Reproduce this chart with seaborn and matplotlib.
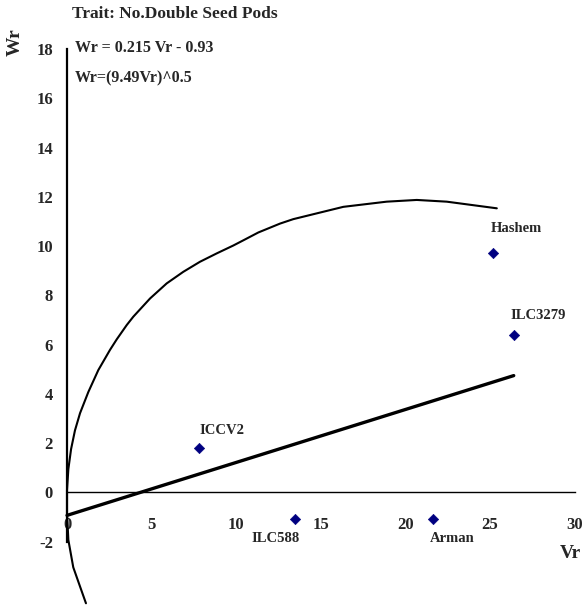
import matplotlib
matplotlib.use("Agg")
import matplotlib.pyplot as plt
import seaborn as sns
import numpy as np
import pandas as pd

# genotypes (Vr, Wr)
genotipos = ["ICCV2", "ILC588", "Arman", "Hashem", "ILC3279"]
vr_pontos = [7.8, 13.5, 21.6, 25.2, 26.4]
wr_pontos = [1.81, -1.08, -1.08, 9.74, 6.38]

# limiting curve (bottom to top, then right)
curva_vr = [1.12, 0.77, 0.37, 0.08, 0.0, 0.0, 0.08, 0.24, 0.47, 0.77, 1.26,
            1.85, 2.54, 2.94, 3.53, 3.92, 4.91, 5.89, 6.87, 7.86, 8.85, 9.83,
            10.42, 11.31, 12.59, 13.37, 16.33, 18.89, 20.67, 22.44, 25.4]
curva_wr = [-4.50, -3.82, -3.04, -1.93, -0.84, 0.10, 0.95, 1.76, 2.52, 3.22, 4.08,
            4.97, 5.79, 6.22, 6.80, 7.14, 7.88, 8.49, 8.96, 9.37, 9.71, 10.03,
            10.24, 10.56, 10.92, 11.10, 11.60, 11.81, 11.88, 11.81, 11.54]

# regression line Wr = 0.215 Vr - 0.93
reta_vr = np.array([0.0, 26.4])
reta_wr = 0.215 * reta_vr - 0.93

x_ticks = [0, 5, 10, 15, 20, 25, 30]
y_ticks = [-2, 0, 2, 4, 6, 8, 10, 12, 14, 16, 18]

sns.set_style("white")
plt.rcParams['font.family'] = ['Liberation Serif', 'DejaVu Serif']
plt.rcParams['font.weight'] = 'bold'

fig = plt.figure(figsize=(5.87, 6.05), dpi=100)
ax = fig.add_axes([0, 0, 1, 1])
ax.set_xlim(-3.96, 30.73)
ax.set_ylim(-4.57, 20.0)
ax.patch.set_visible(False)

# curva e reta
df_curva = pd.DataFrame({'vr': curva_vr, 'wr': curva_wr})
ax.plot(df_curva['vr'], df_curva['wr'], color='black', lw=1.5, zorder=2,
        solid_joinstyle='round')
sns.lineplot(x=reta_vr, y=reta_wr, color='black', lw=2.4, ax=ax, zorder=3)

# pontos
df_pts = pd.DataFrame({'g': genotipos, 'vr': vr_pontos, 'wr': wr_pontos})
sns.scatterplot(data=df_pts, x='vr', y='wr', marker='D', s=28, color='#000080',
                edgecolor='#000080', ax=ax, zorder=4)

deslocamentos = {
    'ICCV2': (0, 17, 'left'),
    'ILC588': (4, -19, 'right'),
    'Arman': (-3, -19, 'left'),
    'Hashem': (-3, 24, 'left'),
    'ILC3279': (-3, 20, 'left'),
}
for _, r in df_pts.iterrows():
    dx, dy, ha = deslocamentos[r['g']]
    ax.annotate(r['g'], (r['vr'], r['wr']), xytext=(dx, dy), textcoords='offset pixels',
                ha=ha, va='center', fontsize=10.5, fontweight='bold')

# eixos cruzando na origem
for s in ['top', 'right']:
    ax.spines[s].set_visible(False)
ax.spines['left'].set_position(('data', 0))
ax.spines['bottom'].set_position(('data', 0))
ax.spines['left'].set_bounds(-2, 18)
ax.spines['bottom'].set_bounds(0, 30)
ax.spines['left'].set_linewidth(1.6)
ax.spines['bottom'].set_linewidth(1.0)
ax.spines['left'].set_color('black')
ax.spines['bottom'].set_color('black')

ax.set_xticks(x_ticks)
ax.set_yticks(y_ticks)
ax.set_xticklabels([str(t) for t in x_ticks])
ax.set_yticklabels([str(t) for t in y_ticks])
ax.tick_params(axis='x', direction='out', length=5, width=1, pad=13, labelsize=12)
ax.tick_params(axis='y', direction='out', length=5, width=1, pad=5, labelsize=12)
for lab in ax.get_xticklabels() + ax.get_yticklabels():
    lab.set_fontweight('bold')

ax.set_xlabel('')
ax.set_ylabel('')
fig.text(560 / 587, 1 - 553 / 605, 'Vr', fontsize=14, ha='left', va='center')
fig.text(15 / 587, 1 - 42 / 605, 'Wr', fontsize=14, rotation=90, ha='center', va='center')

fig.text(72 / 587, 1 - 14 / 605, 'Trait: No.Double Seed Pods', fontsize=12.5,
         fontweight='bold', ha='left', va='center')
fig.text(75 / 587, 1 - 48 / 605, 'Wr = 0.215 Vr - 0.93', fontsize=11.5,
         fontweight='bold', ha='left', va='center')
fig.text(75 / 587, 1 - 78 / 605, 'Wr=(9.49Vr)^0.5', fontsize=11.5,
         fontweight='bold', ha='left', va='center')

plt.savefig('out.png', dpi=100)
